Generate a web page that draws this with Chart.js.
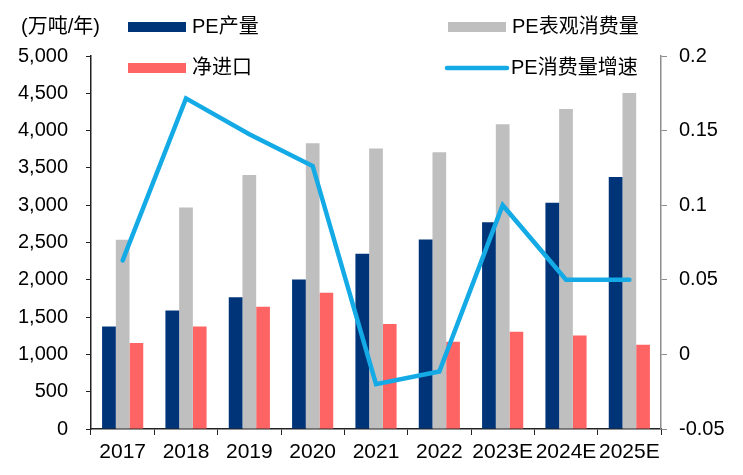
<!DOCTYPE html>
<html lang="zh">
<head>
    <meta charset="UTF-8">
    <title>PE 产量与消费</title>
    <script src="https://cdn.jsdelivr.net/npm/chart.js"></script>
    <style>
        html, body { margin: 0; padding: 0; background: #fff; }
        #wrap { width: 743px; height: 475px; }
    </style>
</head>
<body>
    <div id="wrap"><canvas id="peChart" width="743" height="475"></canvas></div>

    <script>
        // données
        const annees = ['2017', '2018', '2019', '2020', '2021', '2022', '2023E', '2024E', '2025E'];
        const production = [1375, 1587, 1765, 2003, 2348, 2540, 2773, 3033, 3378];
        const consoApparente = [2536, 2970, 3405, 3831, 3759, 3710, 4086, 4288, 4503];
        const importNet = [1152, 1375, 1640, 1828, 1407, 1169, 1304, 1254, 1129];
        const croissance = [0.063, 0.1716, 0.1476, 0.1263, -0.020, -0.0115, 0.100, 0.050, 0.050];

        const FONT = "'Liberation Sans', 'Noto Sans CJK SC', sans-serif";

        // légende dessinée à la main (2 lignes, 2 colonnes)
        const legendePerso = {
            id: 'legendePerso',
            afterDraw(chart) {
                const ctx = chart.ctx;
                ctx.save();
                ctx.textBaseline = 'middle';
                ctx.fillStyle = '#000';
                ctx.font = '20px ' + FONT;
                ctx.fillText('(万吨/年)', 21, 27);

                const items = [
                    { txt: 'PE产量', color: '#003478', type: 'box', x: 128, y: 27 },
                    { txt: 'PE表观消费量', color: '#bfbfbf', type: 'box', x: 448, y: 27 },
                    { txt: '净进口', color: '#ff6464', type: 'box', x: 128, y: 68 },
                    { txt: 'PE消费量增速', color: '#14aae6', type: 'line', x: 447, y: 68 }
                ];
                items.forEach(it => {
                    if (it.type === 'box') {
                        ctx.fillStyle = it.color;
                        ctx.fillRect(it.x, it.y - 5, 58, 10);
                    } else {
                        ctx.strokeStyle = it.color;
                        ctx.lineWidth = 4.5;
                        ctx.lineCap = 'round';
                        ctx.beginPath();
                        ctx.moveTo(it.x, it.y);
                        ctx.lineTo(it.x + 60, it.y);
                        ctx.stroke();
                    }
                    ctx.fillStyle = '#000';
                    ctx.fillText(it.txt, it.x + 64, it.y);
                });
                ctx.restore();
            }
        };

        const ctx = document.getElementById('peChart').getContext('2d');
        const peChart = new Chart(ctx, {
            type: 'bar',
            data: {
                labels: annees,
                datasets: [
                    { type: 'line', label: 'PE消费量增速', data: croissance, yAxisID: 'y1',
                      borderColor: '#14aae6', borderWidth: 4.5, pointRadius: 0, tension: 0,
                      fill: false, order: 0, borderCapStyle: 'round', borderJoinStyle: 'miter' },
                    { label: 'PE产量', data: production, backgroundColor: '#003478', yAxisID: 'y', order: 1 },
                    { label: 'PE表观消费量', data: consoApparente, backgroundColor: '#bfbfbf', yAxisID: 'y', order: 1 },
                    { label: '净进口', data: importNet, backgroundColor: '#ff6464', yAxisID: 'y', order: 1 }
                ]
            },
            options: {
                responsive: false,
                animation: false,
                maintainAspectRatio: false,
                datasets: {
                    bar: { categoryPercentage: 0.65, barPercentage: 1.0 }
                },
                layout: { padding: { top: 56, left: 0, right: 0, bottom: 0 } },
                plugins: {
                    legend: { display: false },
                    tooltip: { enabled: false }
                },
                scales: {
                    x: {
                        offset: true,
                        grid: { display: true, offset: true, drawOnChartArea: false, drawTicks: true,
                                tickLength: 6, color: '#222', lineWidth: 1 },
                        border: { display: true, color: '#222', width: 1.5 },
                        ticks: { color: '#000', font: { family: FONT, size: 21 }, padding: 5,
                                 maxRotation: 0, autoSkip: false },
                        afterFit(scale) { scale.height = 46; }
                    },
                    y: {
                        position: 'left',
                        min: 0, max: 5000,
                        grid: { display: true, drawOnChartArea: false, tickLength: 5, color: '#222' },
                        border: { display: true, color: '#222', width: 1.5 },
                        ticks: { stepSize: 500, color: '#000', font: { family: FONT, size: 20 }, padding: 18,
                                 callback: v => v.toLocaleString('en-US') },
                        afterFit(scale) { scale.width = 91; }
                    },
                    y1: {
                        position: 'right',
                        min: -0.05, max: 0.2,
                        grid: { display: true, drawOnChartArea: false, tickLength: 6, color: '#8c8c8c' },
                        border: { display: true, color: '#8c8c8c', width: 1.5 },
                        ticks: { stepSize: 0.05, color: '#000', font: { family: FONT, size: 20 }, padding: 12,
                                 callback: v => String(Math.round(v * 100) / 100) },
                        afterFit(scale) { scale.width = 82; }
                    }
                }
            },
            plugins: [legendePerso]
        });
    </script>
</body>
</html>
